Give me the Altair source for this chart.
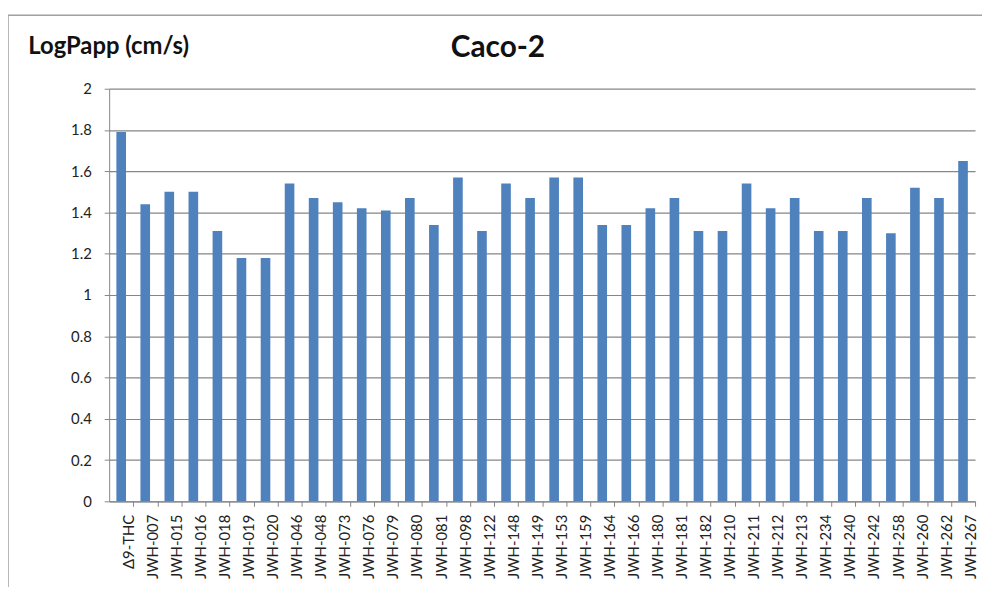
import altair as alt
import pandas as pd

compounds = ["Δ9-THC", "JWH-007", "JWH-015", "JWH-016", "JWH-018", "JWH-019", "JWH-020",
             "JWH-046", "JWH-048", "JWH-073", "JWH-076", "JWH-079", "JWH-080", "JWH-081",
             "JWH-098", "JWH-122", "JWH-148", "JWH-149", "JWH-153", "JWH-159", "JWH-164",
             "JWH-166", "JWH-180", "JWH-181", "JWH-182", "JWH-210", "JWH-211", "JWH-212",
             "JWH-213", "JWH-234", "JWH-240", "JWH-242", "JWH-258", "JWH-260", "JWH-262",
             "JWH-267"]
log_papp = [1.79, 1.44, 1.50, 1.50, 1.31, 1.18, 1.18,
            1.54, 1.47, 1.45, 1.42, 1.41, 1.47, 1.34,
            1.57, 1.31, 1.54, 1.47, 1.57, 1.57, 1.34,
            1.34, 1.42, 1.47, 1.31, 1.31, 1.54, 1.42,
            1.47, 1.31, 1.31, 1.47, 1.30, 1.52, 1.47,
            1.65]
y_ticks = [0, 0.2, 0.4, 0.6, 0.8, 1.0, 1.2, 1.4, 1.6, 1.8, 2.0]
chart_title = "Caco-2"
y_title = "LogPapp (cm/s)"

df = pd.DataFrame({"compound": compounds, "value": log_papp})
one = pd.DataFrame({"k": [0]})

W, H = 873, 416
step = W / len(compounds)
FONT = "Lato"

bars = alt.Chart(df).mark_bar(color="#4F81BD").encode(
    x=alt.X("compound:N", sort=None,
            scale=alt.Scale(paddingInner=0.6, paddingOuter=0.3),
            axis=alt.Axis(title=None, labelAngle=-90, labelAlign="right",
                          labelBaseline="middle", labelPadding=8,
                          labelFont=FONT, labelFontSize=15, labelColor="#222222",
                          tickSize=5, tickColor="#868686", domainColor="#868686",
                          bandPosition=1, tickOffset=0.3 * step,
                          grid=False)),
    y=alt.Y("value:Q", scale=alt.Scale(domain=[0, 2], nice=False),
            axis=alt.Axis(values=y_ticks, format="~g", title=y_title,
                          titleAngle=0, titleAlign="left", titleBaseline="alphabetic",
                          titleX=-82, titleY=-36, titleFont=FONT, titleFontSize=24,
                          titleFontWeight="bold", titleColor="#111111",
                          labelFont=FONT, labelFontSize=15, labelColor="#222222",
                          labelPadding=13, tickSize=5, tickColor="#868686",
                          domainColor="#868686", gridColor="#868686",
                          gridWidth=1.2)),
)

frame_left = alt.Chart(one).mark_rule(color="#a0a0a0", strokeWidth=1.5).encode(
    x=alt.value(-102), y=alt.value(-74), y2=alt.value(H + 100),
)
frame_top = alt.Chart(one).mark_rule(color="#a0a0a0", strokeWidth=1.5).encode(
    x=alt.value(-102), x2=alt.value(W + 20), y=alt.value(-74),
)

title = alt.Chart(one).mark_text(
    text=chart_title, font=FONT, fontSize=30, fontWeight="bold",
    color="#111111", align="center", baseline="alphabetic",
).encode(x=alt.value(392), y=alt.value(-32))

chart = alt.layer(frame_left, frame_top, bars, title).properties(
    width=W, height=H,
    autosize=alt.AutoSizeParams(type="none"),
    padding={"left": 102, "top": 79, "right": 7, "bottom": 84},
).configure_view(stroke=None)

chart.save("out.html", embed_options={"renderer": "svg", "actions": False})
